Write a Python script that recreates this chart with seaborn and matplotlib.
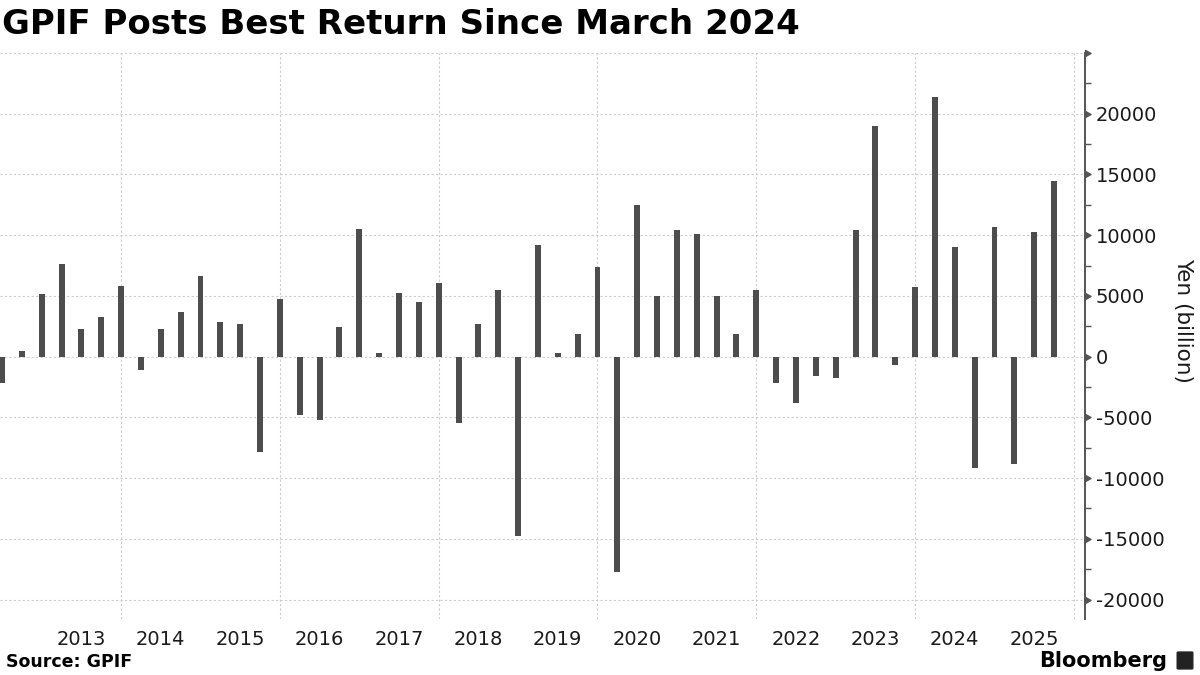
import numpy as np
import pandas as pd
import seaborn as sns
import matplotlib.pyplot as plt
from matplotlib.ticker import MultipleLocator, NullFormatter
from matplotlib.path import Path
from matplotlib.patches import FancyBboxPatch

# Quarterly investment return, yen billion (quarter ending)
quarters = [
    "2012Q2", "2012Q3", "2012Q4",
    "2013Q1", "2013Q2", "2013Q3", "2013Q4",
    "2014Q1", "2014Q2", "2014Q3", "2014Q4",
    "2015Q1", "2015Q2", "2015Q3", "2015Q4",
    "2016Q1", "2016Q2", "2016Q3", "2016Q4",
    "2017Q1", "2017Q2", "2017Q3", "2017Q4",
    "2018Q1", "2018Q2", "2018Q3", "2018Q4",
    "2019Q1", "2019Q2", "2019Q3", "2019Q4",
    "2020Q1", "2020Q2", "2020Q3", "2020Q4",
    "2021Q1", "2021Q2", "2021Q3", "2021Q4",
    "2022Q1", "2022Q2", "2022Q3", "2022Q4",
    "2023Q1", "2023Q2", "2023Q3", "2023Q4",
    "2024Q1", "2024Q2", "2024Q3", "2024Q4",
    "2025Q1", "2025Q2", "2025Q3",
]
returns = [
    -2150, 500, 5140,
    7630, 2240, 3230, 5830,
    -1080, 2240, 3650, 6630,
    2820, 2650, -7820, 4750,
    -4780, -5200, 2450, 10500,
    300, 5200, 4500, 6100,
    -5500, 2700, 5500, -14800,
    9200, 300, 1900, 7400,
    -17750, 12500, 5000, 10400,
    10100, 5000, 1900, 5500,
    -2200, -3800, -1600, -1800,
    10400, 19000, -700, 5700,
    21400, 9000, -9200, 10700,
    -8800, 10300, 14500,
]

df = pd.DataFrame({"quarter": quarters, "value": returns})
df["pos"] = np.arange(len(df))
df["year"] = df["quarter"].str[:4].astype(int)
df["q"] = df["quarter"].str[-1].astype(int)

fig = plt.figure(figsize=(12, 6.75), dpi=100)
ax = fig.add_axes([0.0, 0.083, 0.904, 0.8385])

sns.barplot(data=df, x="pos", y="value", native_scale=True, width=0.3,
            color="#4d4d4d", saturation=1, ax=ax)

ax.set_xlim(-0.1, 54.55)
ax.set_ylim(-21600, 25000)
ax.set_axisbelow(True)

# x axis: gridlines at ends of odd years, year labels mid-year
grid_pos = df.loc[(df["q"] == 4) & (df["year"] % 2 == 1), "pos"].tolist()
grid_pos.append(df["pos"].max() + 1)  # end of 2025
lab = df[(df["q"] == 2) & (df["year"] >= 2013)]
ax.set_xticks(grid_pos)
ax.xaxis.set_major_formatter(NullFormatter())
ax.set_xticks(lab["pos"], minor=True)
ax.set_xticklabels(lab["year"].astype(str), minor=True)
ax.tick_params(axis="x", which="both", length=0, labelsize=14, pad=8,
               labelcolor="#1a1a1a")

# y axis on the right
yt = list(range(-20000, 25001, 5000))
ax.yaxis.tick_right()
ax.set_yticks(yt)
ax.set_yticklabels([str(v) if v < 25000 else "" for v in yt])
ax.yaxis.set_minor_locator(MultipleLocator(2500))
ax.tick_params(axis="y", which="major", length=0, pad=8, labelsize=14,
               labelcolor="#1a1a1a")
ax.tick_params(axis="y", which="minor", length=4, width=1, color="#555555",
               direction="out")

ax.grid(True, which="major", axis="both", color="#cccccc", linestyle=(0, (2, 2)),
        linewidth=0.8)
ax.grid(False, which="minor")

for s in ["left", "top", "bottom"]:
    ax.spines[s].set_visible(False)
ax.spines["right"].set_color("#555555")
ax.spines["right"].set_linewidth(1.4)

# triangle markers on the axis at major ticks
tri = Path([(0, -1), (0, 1), (1.8, 0), (0, -1)],
           [Path.MOVETO, Path.LINETO, Path.LINETO, Path.CLOSEPOLY])
ax.plot([1] * len(yt), yt, linestyle="none", marker=tri, markersize=8,
        color="#555555", transform=ax.get_yaxis_transform(), clip_on=False)

ax.set_xlabel("")
ax.set_ylabel("")

fig.text(0.002, 0.963, "GPIF Posts Best Return Since March 2024",
         fontsize=24.5, fontweight="bold", va="center", ha="left")
fig.text(0.986, 0.526, "Yen (billion)", rotation=-90, fontsize=15.5,
         va="center", ha="center", color="#1a1a1a")
fig.text(0.005, 0.019, "Source: GPIF", fontsize=12.5, fontweight="bold",
         va="center", ha="left")
fig.text(0.973, 0.021, "Bloomberg", fontsize=15, fontweight="bold",
         va="center", ha="right")

# small logo box
fig.patches.append(FancyBboxPatch((0.982, 0.010), 0.011, 0.023,
                                  boxstyle="round,pad=0.001", color="#222222",
                                  transform=fig.transFigure))

fig.savefig("out.png", dpi=100, facecolor="white")
